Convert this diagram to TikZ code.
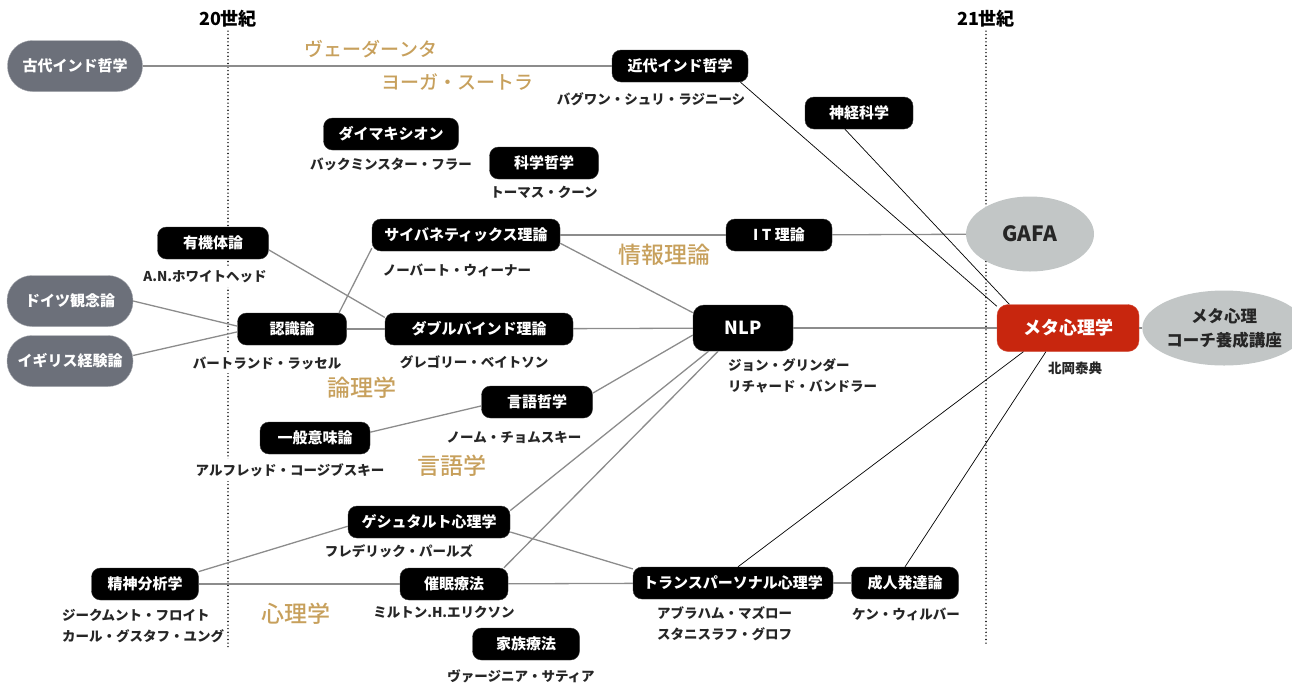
\documentclass[tikz,border=0pt]{standalone}
\usepackage{fontspec}
\setmainfont{Noto Sans CJK JP}
\newfontfamily\medium{Noto Sans CJK JP Medium}
\usetikzlibrary{shapes.geometric}

\definecolor{gold}{RGB}{199,160,92}
\definecolor{slate}{RGB}{108,112,122}
\definecolor{mist}{RGB}{194,198,198}
\definecolor{metared}{RGB}{200,38,14}

\begin{document}
\begin{tikzpicture}[x=1pt, y=-1pt,
    box/.style = {fill=black, draw=black!80, text=white, rounded corners=9pt, minimum height=32pt, inner sep=0pt, font=\fontsize{15}{18}\selectfont\bfseries},
    pill/.style = {fill=slate, draw=slate!60, text=white, rounded corners=25pt, minimum height=51pt, inner sep=0pt, font=\fontsize{15}{18}\selectfont\bfseries},
    blob/.style = {ellipse, fill=mist, minimum width=128pt, minimum height=75pt, inner sep=0pt, text=black!85},
    who/.style = {fill=white, inner xsep=1pt, inner ysep=4pt, text=black!85, align=left, font=\fontsize{13.5}{21}\selectfont\bfseries},
    field/.style = {text=gold, inner sep=0pt},
    era/.style = {line width=1.6pt, line cap=round, dash pattern=on 0pt off 3.6pt},
    link/.style = {draw=black!45, line width=1.3pt},
    wire/.style = {draw=black, line width=0.7pt}]

    \useasboundingbox (0,0) rectangle (1292,686);

    % timeline
    \node[font=\fontsize{18}{20}\selectfont\bfseries] (c20) at (228,19) {20世紀};
    \node[font=\fontsize{18}{20}\selectfont\bfseries] (c21) at (986,19) {21世紀};
    \coordinate (c20end) at (228,648);
    \coordinate (c21end) at (986,646);
    \draw[era] (c20.south) -- (c20end);
    \draw[era] (c21.south) -- (c21end);

    % fields
    \node[field, font=\fontsize{19}{22}\medium] (vedanta) at (371,49) {ヴェーダーンタ};
    \node[field, font=\fontsize{19}{22}\medium] (yoga) at (457,82) {ヨーガ・スートラ};
    \node[field, font=\fontsize{23}{26}\medium] (info) at (664,255) {情報理論};
    \node[field, font=\fontsize{23}{26}\medium] (logic) at (362,388) {論理学};
    \node[field, font=\fontsize{23}{26}\medium] (lingu) at (452,466) {言語学};
    \node[field, font=\fontsize{23}{26}\medium] (psych) at (296,614) {心理学};

    % nodes
    \node[pill, minimum width=135pt] (kodai) at (75,66) {古代インド哲学};
    \node[pill, minimum width=126pt] (doitsu) at (70,301) {ドイツ観念論};
    \node[pill, minimum width=126pt] (igirisu) at (70,361) {イギリス経験論};

    \node[box, minimum width=136pt] (kindai) at (680,66) {近代インド哲学};
    \node[box, minimum width=108pt] (shinkei) at (859,113) {神経科学};
    \node[box, minimum width=135pt] (dymax) at (391,134) {ダイマキシオン};
    \node[box, minimum width=109pt] (kagaku) at (544,163) {科学哲学};
    \node[box, minimum width=111pt] (yuuki) at (213,243) {有機体論};
    \node[box, minimum width=188pt] (cyber) at (466,235) {サイバネティックス理論};
    \node[box, minimum width=106pt] (it) at (779,235) {I T 理論};
    \node[box, minimum width=109pt] (ninshiki) at (292,329) {認識論};
    \node[box, minimum width=188pt] (double) at (479,329) {ダブルバインド理論};
    \node[box, minimum width=100pt, minimum height=46pt, rounded corners=11pt, font=\fontsize{18}{20}\selectfont\bfseries] (nlp) at (743,328) {NLP};
    \node[box, fill=metared, draw=metared!80, minimum width=142pt, minimum height=47pt, rounded corners=11pt, font=\fontsize{18}{20}\selectfont\bfseries] (meta) at (1068,328) {メタ心理学};
    \node[box, minimum width=111pt] (gengo) at (537,402) {言語哲学};
    \node[box, minimum width=110pt] (ippan) at (315,438) {一般意味論};
    \node[box, minimum width=162pt] (gestalt) at (429,522) {ゲシュタルト心理学};
    \node[box, minimum width=107pt] (seishin) at (145,584) {精神分析学};
    \node[box, minimum width=108pt] (saimin) at (454,584) {催眠療法};
    \node[box, minimum width=107pt] (kazoku) at (526,644) {家族療法};
    \node[box, minimum width=200pt] (trans) at (733,583) {トランスパーソナル心理学};
    \node[box, minimum width=107pt] (seijin) at (905,583) {成人発達論};

    \node[blob, font=\fontsize{21}{22}\selectfont\bfseries] (gafa) at (1030,234) {GAFA};
    \node[blob, align=center, font=\fontsize{16.5}{24}\selectfont\bfseries] (course) at (1224,328) {メタ心理\\コーチ養成講座};

    % people
    \node[who] (rajneesh) at (651,99) {バグワン・シュリ・ラジニーシ};
    \node[who] (fuller) at (391,164) {バックミンスター・フラー};
    \node[who] (kuhn) at (544,192) {トーマス・クーン};
    \node[who] (whitehead) at (205,277) {A.N.ホワイトヘッド};
    \node[who] (wiener) at (457,270) {ノーバート・ウィーナー};
    \node[who] (russell) at (267,363) {バートランド・ラッセル};
    \node[who] (bateson) at (474,362) {グレゴリー・ベイトソン};
    \node[who, anchor=west] (grinder) at (727,376) {ジョン・グリンダー\\リチャード・バンドラー};
    \node[who] (kitaoka) at (1075,368) {北岡泰典};
    \node[who] (chomsky) at (514,437) {ノーム・チョムスキー};
    \node[who] (korzybski) at (290,470) {アルフレッド・コージブスキー};
    \node[who] (perls) at (399,551) {フレデリック・パールズ};
    \node[who] (erickson) at (444,612) {ミルトン.H.エリクソン};
    \node[who] (satir) at (521,676) {ヴァージニア・サティア};
    \node[who, anchor=west] (freud) at (61,626) {ジークムント・フロイト\\カール・グスタフ・ユング};
    \node[who, anchor=west] (maslow) at (656,624) {アブラハム・マズロー\\スタニスラフ・グロフ};
    \node[who] (wilber) at (906,614) {ケン・ウィルバー};

    % links
    \draw[link] (kodai) -- (kindai);
    \draw[link] (cyber) -- (it);
    \draw[link] (it) -- (gafa);
    \draw[link] (cyber.-5) -- (nlp.163);
    \draw[link] (yuuki.-7) -- (double.173);
    \draw[link] (doitsu.east) -- (ninshiki.177);
    \draw[link] (igirisu.5) -- (ninshiki.-177);
    \draw[link] (ninshiki.19) -- (cyber.-172);
    \draw[link] (ninshiki) -- (double);
    \draw[link] (double) -- (nlp);
    \draw[link] (nlp) -- (meta);
    \draw[link] (meta) -- (course);
    \draw[link] (gengo.9) -- (nlp.-172);
    \draw[link] (ippan.6) -- (gengo.-176);
    \draw[link] (nlp.-146) -- (gestalt.8);
    \draw[link] (nlp.-137) -- (saimin.18);
    \draw[link] (gestalt.-7) -- (trans.172);
    \draw[link] (seishin.13) -- (gestalt.-177);
    \draw[link] (seishin) -- (saimin);
    \draw[link] (saimin) -- (trans);
    \draw[link] (trans) -- (seijin);

    % links into meta
    \draw[wire] (kindai.-15) -- (meta.163);
    \draw[wire] (shinkei.-131) -- (meta.158);
    \draw[wire] (trans.73) -- (meta.-152);
    \draw[wire] (seijin.north) -- (meta.-133);

\end{tikzpicture}
\end{document}
